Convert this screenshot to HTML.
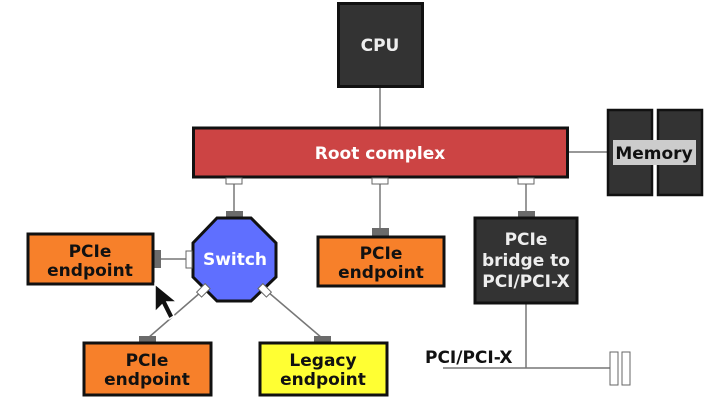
<!DOCTYPE html>
<html><head><meta charset="utf-8"><style>
html,body{margin:0;padding:0;background:#fff;width:711px;height:400px;overflow:hidden}
</style></head><body>
<svg width="711" height="400" xmlns="http://www.w3.org/2000/svg" font-family="DejaVu Sans, sans-serif" font-weight="bold" font-size="17">
<g stroke="#777" stroke-width="1.5" fill="none">
<line x1="380" y1="87" x2="380" y2="127"/>
<line x1="568" y1="152" x2="613" y2="152"/>
<line x1="234" y1="184" x2="234" y2="212"/>
<line x1="380" y1="184" x2="380" y2="229"/>
<line x1="526" y1="184" x2="526" y2="212"/>
<line x1="160" y1="259" x2="186" y2="259"/>
<line x1="201" y1="292" x2="148" y2="338"/>
<line x1="268" y1="292" x2="322" y2="338"/>
<line x1="526" y1="304" x2="526" y2="368"/>
<line x1="443" y1="368" x2="610" y2="368"/>
</g>
<rect x="338.5" y="3.5" width="84" height="83" fill="#333" stroke="#111" stroke-width="3"/>
<text x="380" y="51" fill="#eee" text-anchor="middle">CPU</text>
<rect x="193.5" y="128" width="374" height="49" fill="#cc4444" stroke="#111" stroke-width="3"/>
<text x="380" y="159" fill="#fff" text-anchor="middle">Root complex</text>
<rect x="608" y="110" width="44" height="85" fill="#333" stroke="#111" stroke-width="2.5"/>
<rect x="658" y="110" width="44" height="85" fill="#333" stroke="#111" stroke-width="2.5"/>
<rect x="613" y="140" width="83" height="25" fill="#ccc"/>
<text x="654" y="159" fill="#111" text-anchor="middle">Memory</text>
<g fill="#fff" stroke="#666" stroke-width="1">
<rect x="226" y="178" width="16" height="6"/>
<rect x="372" y="178" width="16" height="6"/>
<rect x="518" y="178" width="16" height="6"/>
</g>
<g fill="#6b6b6b">
<rect x="226" y="211" width="17" height="7"/>
<rect x="372" y="228" width="17" height="8"/>
<rect x="518" y="211" width="17" height="7"/>
<rect x="154" y="250" width="7" height="18"/>
<rect x="139" y="336" width="17" height="7"/>
<rect x="314" y="336" width="17" height="7"/>
</g>
<polygon points="217,218 251,218 276,243 276,277 251,301 217,301 193,277 193,243" fill="#5f6fff" stroke="#111" stroke-width="3"/>
<rect x="186" y="251" width="6" height="17" fill="#fff" stroke="#666" stroke-width="1"/>
<rect x="197" y="287" width="12" height="7" fill="#fff" stroke="#666" stroke-width="1" transform="rotate(-45 203 290)"/>
<rect x="259" y="287" width="12" height="7" fill="#fff" stroke="#666" stroke-width="1" transform="rotate(45 265 290)"/>
<text x="235" y="265" fill="#fff" text-anchor="middle">Switch</text>
<rect x="28" y="234" width="125" height="50" fill="#f7802a" stroke="#111" stroke-width="3"/>
<text x="90" y="257" fill="#111" text-anchor="middle">PCIe</text>
<text x="90" y="276" fill="#111" text-anchor="middle">endpoint</text>
<rect x="318" y="237" width="126" height="49" fill="#f7802a" stroke="#111" stroke-width="3"/>
<text x="381" y="259" fill="#111" text-anchor="middle">PCIe</text>
<text x="381" y="278" fill="#111" text-anchor="middle">endpoint</text>
<rect x="84" y="343" width="127" height="52" fill="#f7802a" stroke="#111" stroke-width="3"/>
<text x="147" y="366" fill="#111" text-anchor="middle">PCIe</text>
<text x="147" y="385" fill="#111" text-anchor="middle">endpoint</text>
<rect x="260" y="343" width="127" height="52" fill="#ffff33" stroke="#111" stroke-width="3"/>
<text x="323" y="366" fill="#111" text-anchor="middle">Legacy</text>
<text x="323" y="385" fill="#111" text-anchor="middle">endpoint</text>
<rect x="475" y="218" width="102" height="85" fill="#333" stroke="#111" stroke-width="3"/>
<g fill="#eee" text-anchor="middle">
<text x="526" y="245">PCIe</text>
<text x="526" y="266">bridge to</text>
<text x="526" y="287">PCI/PCI-X</text>
</g>
<text x="425" y="363" fill="#111">PCI/PCI-X</text>
<rect x="610" y="352" width="8" height="33" fill="#fff" stroke="#666" stroke-width="1"/>
<rect x="622" y="352" width="8" height="33" fill="#fff" stroke="#666" stroke-width="1"/>
<path d="M155,284 L155,312 L162,305 L169,319 L174,316 L167,302 L177,302 Z" fill="#111" stroke="#fff" stroke-width="1.5"/>
</svg>
</body></html>
